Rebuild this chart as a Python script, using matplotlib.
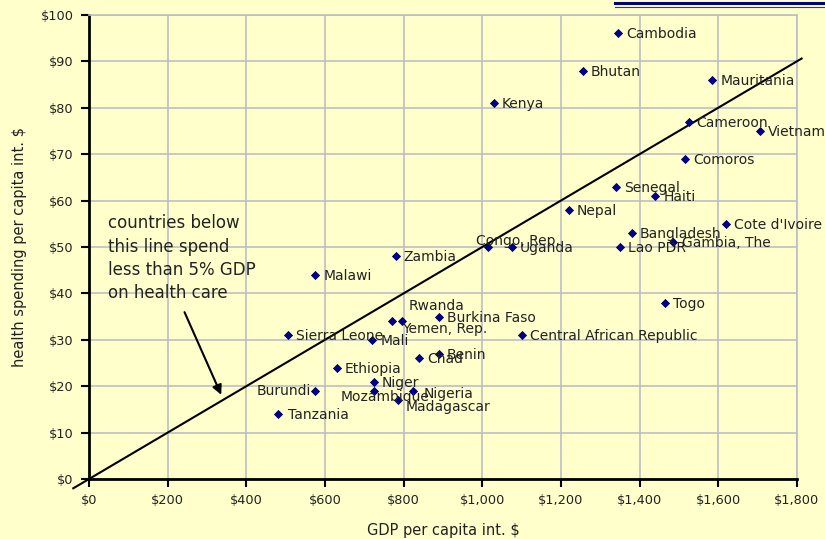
import matplotlib.pyplot as plt
from matplotlib.lines import Line2D
from matplotlib.ticker import FuncFormatter

# GDP per capita vs health spending per capita (int. $)
countries = ["Cambodia", "Bhutan", "Mauritania", "Kenya", "Cameroon", "Vietnam",
             "Comoros", "Senegal", "Haiti", "Nepal", "Cote d'Ivoire", "Bangladesh",
             "Gambia, The", "Lao PDR", "Congo, Rep.", "Uganda", "Zambia", "Malawi",
             "Togo", "Burkina Faso", "Rwanda", "Yemen, Rep.", "Sierra Leone",
             "Central African Republic", "Mali", "Benin", "Chad", "Ethiopia",
             "Niger", "Burundi", "Mozambique", "Nigeria", "Madagascar", "Tanzania"]
gdp = [1345, 1255, 1585, 1030, 1525, 1705,
       1515, 1340, 1440, 1220, 1620, 1380,
       1485, 1350, 1015, 1075, 780, 575,
       1465, 890, 770, 795, 505,
       1100, 720, 890, 840, 630,
       725, 575, 725, 825, 785, 480]
health = [96, 88, 86, 81, 77, 75,
          69, 63, 61, 58, 55, 53,
          51, 50, 50, 50, 48, 44,
          38, 35, 34, 34, 31,
          31, 30, 27, 26, 24,
          21, 19, 19, 19, 17, 14]

# label offsets in pixels (dx, dy) and horizontal alignment
default_off = (8, -1, 'left')
label_off = {
    "Congo, Rep.": (-12, 6, 'left'),
    "Rwanda": (17, 15, 'left'),
    "Yemen, Rep.": (0, -8, 'left'),
    "Burundi": (-4, 0, 'right'),
    "Mozambique": (11, -6, 'center'),
    "Nigeria": (10, -3, 'left'),
    "Madagascar": (8, -7, 'left'),
    "Gambia, The": (9, -1, 'left'),
    "Tanzania": (10, -1, 'left'),
}

x_ticks = list(range(0, 2000, 200))
y_ticks = list(range(0, 110, 10))

bg = '#FFFFCC'
grid_c = '#BDBDC4'
txt_c = '#222222'

plt.rcParams['font.family'] = ['DejaVu Sans']
fig = plt.figure(figsize=(8.25, 5.39), dpi=100, facecolor=bg)
ax = fig.add_axes([0.1079, 0.1113, 0.858, 0.861], facecolor=bg)

ax.set_xlim(0, 1800)
ax.set_ylim(0, 100)
ax.set_xticks(x_ticks)
ax.set_yticks(y_ticks)
ax.xaxis.set_major_formatter(FuncFormatter(lambda v, p: '${:,.0f}'.format(v)))
ax.yaxis.set_major_formatter(FuncFormatter(lambda v, p: '${:,.0f}'.format(v)))
ax.grid(True, color=grid_c, linewidth=1.2)
ax.set_axisbelow(True)

for s in ['top', 'right']:
    ax.spines[s].set_color(grid_c)
    ax.spines[s].set_linewidth(1.2)
for s in ['left', 'bottom']:
    ax.spines[s].set_color('black')
    ax.spines[s].set_linewidth(2)
ax.tick_params(direction='out', length=6, width=1.5, color='black',
               labelsize=9.3, labelcolor=txt_c, pad=5)

# 5% of GDP reference line
lx = [-40, 1812]
ax.plot(lx, [0.05 * v for v in lx], color='black', linewidth=1.5, clip_on=False, zorder=3)

ax.scatter(gdp, health, marker='D', s=22, color='#000080', zorder=4, linewidths=0)

for name, x, y in zip(countries, gdp, health):
    dx, dy, ha = label_off.get(name, default_off)
    ax.annotate(name, (x, y), xytext=(dx, dy), textcoords='offset pixels',
                ha=ha, va='center', fontsize=10, color=txt_c, zorder=5,
                annotation_clip=False)

ax.text(48, 57, "countries below\nthis line spend\nless than 5% GDP\non health care",
        fontsize=12, color=txt_c, va='top', ha='left', linespacing=1.38)
ax.annotate('', xy=(339, 17.6), xytext=(240, 36.5),
            arrowprops=dict(arrowstyle='-|>', color='black', lw=1.5, mutation_scale=14))

ax.set_xlabel('GDP per capita int. $', fontsize=10.5, color=txt_c, labelpad=11)
ax.set_ylabel('health spending per capita int. $', fontsize=10.5, color=txt_c, labelpad=10)

# header rule at the top right
fig.add_artist(Line2D([615 / 825, 1], [1 - 3 / 539] * 2, color='#000080', linewidth=2.2))
fig.add_artist(Line2D([615 / 825, 1], [1 - 6.5 / 539] * 2, color='#3030C0', linewidth=0.8))

fig.savefig('out.png', dpi=100, facecolor=bg)
